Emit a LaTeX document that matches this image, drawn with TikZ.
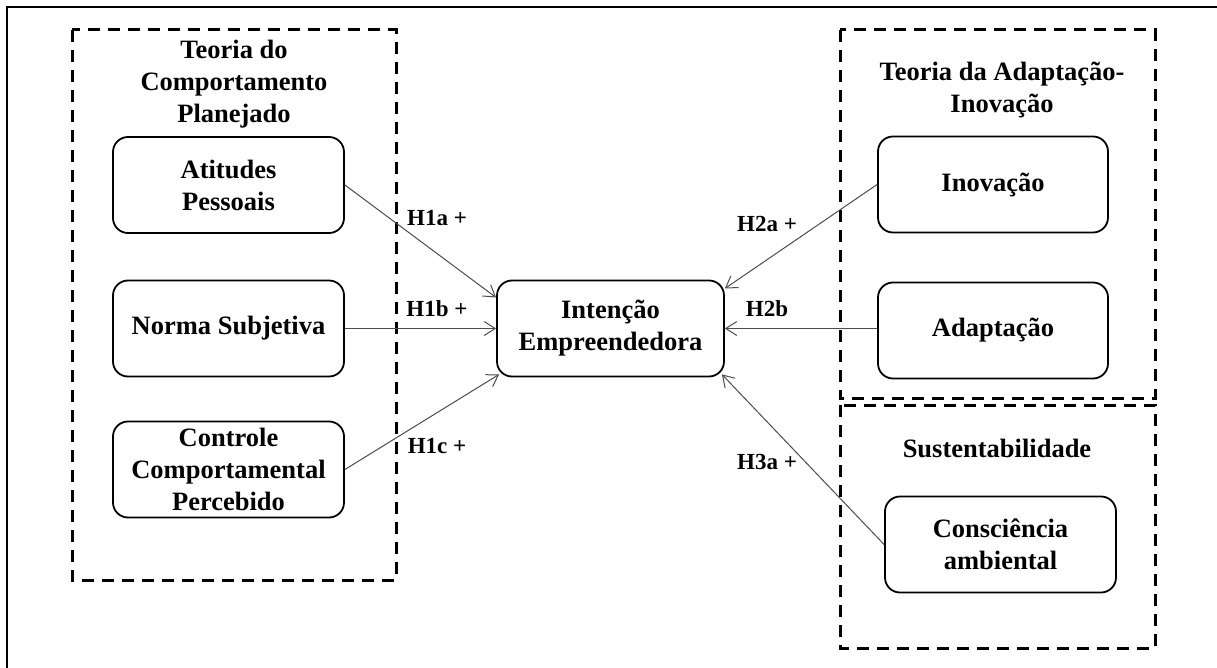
\documentclass[tikz,border=0pt]{standalone}
\usepackage{fontspec}
\setmainfont{Liberation Serif}
\usetikzlibrary{arrows.meta}

\begin{document}
\begin{tikzpicture}[x=1pt,y=-1pt]
        \tikzstyle{fator}=[draw, line width=1.8pt, rounded corners=15pt, minimum width=231pt, minimum height=96pt, align=center, font=\bfseries\fontsize{26.5}{32}\selectfont]
        \tikzstyle{titulo}=[align=center, font=\bfseries\fontsize{26.5}{32}\selectfont]
        \tikzstyle{grupo}=[line width=3pt, dash pattern=on 12pt off 8pt]
        \tikzstyle{hip}=[draw=gray!60!black, line width=1pt, -{Straight Barb[length=11pt,width=14pt]}]
        \tikzstyle{rotulo}=[font=\bfseries\fontsize{23}{27}\selectfont]
        \useasboundingbox (0,0) rectangle (1217,668);
        \draw[line width=1.5pt] (7,668) -- (7,7) -- (1217,7);
        % grupos
        \draw[grupo] (72,30) rectangle (396,580);
        \draw[grupo] (840,30) rectangle (1155,398);
        \draw[grupo] (840,405) rectangle (1155,648);
        \node[titulo] (tcp) at (234,84) {Teoria do\\Comportamento\\Planejado};
        \node[titulo] (tai) at (1002,90) {Teoria da Adaptação-\\Inovação};
        \node[titulo] (sust) at (997,448) {Sustentabilidade};
        % fatores
        \node[fator] (atit) at (228.5,185) {Atitudes\\Pessoais};
        \node[fator] (norma) at (228.5,328.5) {Norma Subjetiva};
        \node[fator] (contr) at (228.5,469.5) {Controle\\Comportamental\\Percebido};
        \node[fator, minimum width=227pt] (intenc) at (610.5,328.5) {Intenção\\Empreendedora};
        \node[fator, minimum width=230pt] (inov) at (993,184.5) {Inovação};
        \node[fator, minimum width=230pt] (adapt) at (993,330.5) {Adaptação};
        \node[fator] (consc) at (1000.5,544.5) {Consciência\\ambiental};
        % hipoteses
        \draw[hip] (atit.east) -- ([yshift=31pt]intenc.west);
        \draw[hip] (norma.east) -- (intenc.west);
        \draw[hip] (contr.east) -- ([shift={(3pt,3pt)}]intenc.south west);
        \draw[hip] (inov.west) -- ([yshift=40pt]intenc.east);
        \draw[hip] (adapt.west |- intenc.east) -- (intenc.east);
        \draw[hip] (consc.west) -- ([shift={(-3pt,3pt)}]intenc.south east);
        \node[rotulo] (h1a) at (437,218) {H1a +};
        \node[rotulo] (h1b) at (437,309) {H1b +};
        \node[rotulo] (h1c) at (437,446) {H1c +};
        \node[rotulo] (h2a) at (767,224) {H2a +};
        \node[rotulo] (h2b) at (767,309) {H2b};
        \node[rotulo] (h3a) at (767,462) {H3a +};
    \end{tikzpicture}
\end{document}
